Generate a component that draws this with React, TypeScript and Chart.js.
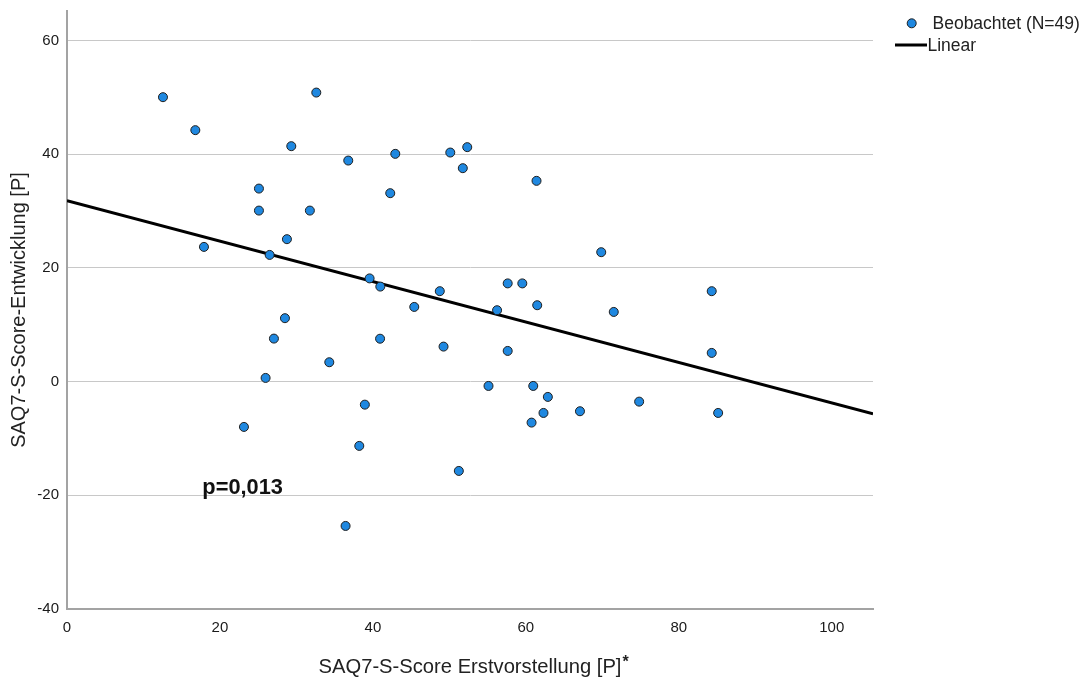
import React, { useEffect, useRef } from "react";
import { Chart, registerables } from "chart.js";

Chart.register(...registerables);

// Observed points (x = SAQ7-S-Score Erstvorstellung, y = SAQ7-S-Score-Entwicklung)
const xValues = [
  12.55, 16.78, 17.91, 23.14, 25.1, 25.1, 25.97, 26.5, 27.06, 28.5,
  28.76, 29.33, 31.76, 32.6, 34.3, 36.43, 36.78, 38.22, 38.95, 39.57,
  40.97, 40.94, 42.27, 42.93, 45.41, 48.75, 49.24, 50.12, 51.24, 51.76,
  52.34, 55.12, 56.24, 57.63, 57.63, 59.54, 60.75, 60.97, 61.49, 61.4,
  62.31, 62.88, 67.08, 69.86, 71.5, 74.82, 84.31, 84.31, 85.15,
];
const yValues = [
  50.04, 44.24, 23.7, -7.97, 33.96, 30.09, 0.65, 22.29, 7.57, 11.16,
  25.06, 41.42, 30.09, 50.85, 3.41, -25.39, 38.89, -11.31, -4.05, 18.16,
  16.72, 7.55, 33.15, 40.07, 13.14, 15.91, 6.16, 40.3, -15.71, 37.55,
  41.25, -0.76, 12.56, 17.28, 5.4, 17.28, -7.21, -0.76, 13.44, 35.32,
  -5.51, -2.69, -5.21, 22.77, 12.26, -3.52, 15.91, 5.05, -5.51,
];

// Linear fit line end points
const fitX = [0, 105.4];
const fitY = [31.85, -5.68];

const xTicks = [0, 20, 40, 60, 80, 100];
const yTicks = [-40, -20, 0, 20, 40, 60];
const xMin = 0;
const xMax = 105.4;
const yMin = -40;
const yMax = 65.2;

const legendLabels = ["Beobachtet (N=49)", "Linear"];
const xTitle = "SAQ7-S-Score Erstvorstellung [P]";
const xTitleMark = "*";
const yTitle = "SAQ7-S-Score-Entwicklung [P]";
const pLabel = "p=0,013";
const pLabelPos = [17.7, -18.7];

const FONT = '"Liberation Sans", Arial, sans-serif';
const POINT_FILL = "#1f88e0";
const POINT_BORDER = "#1e1e1e";

const overlayPlugin = {
  id: "overlay",
  afterDraw(chart: any) {
    const { ctx, scales, chartArea } = chart;
    ctx.save();
    // p-value annotation
    ctx.font = `bold 21.8px ${FONT}`;
    ctx.fillStyle = "#111";
    ctx.textAlign = "left";
    ctx.textBaseline = "middle";
    ctx.fillText(
      pLabel,
      scales.x.getPixelForValue(pLabelPos[0]),
      scales.y.getPixelForValue(pLabelPos[1])
    );

    // x axis title with superscript asterisk
    ctx.font = `20.2px ${FONT}`;
    ctx.fillStyle = "#222";
    ctx.textAlign = "center";
    ctx.textBaseline = "alphabetic";
    const cx = (chartArea.left + chartArea.right) / 2;
    ctx.fillText(xTitle, cx, 672.5);
    const w = ctx.measureText(xTitle).width;
    ctx.font = `bold 16px ${FONT}`;
    ctx.textAlign = "left";
    ctx.fillText(xTitleMark, cx + w / 2 + 1, 667);

    // legend
    ctx.font = `17.5px ${FONT}`;
    ctx.textBaseline = "middle";
    ctx.beginPath();
    ctx.arc(911.7, 23.3, 4.5, 0, Math.PI * 2);
    ctx.fillStyle = POINT_FILL;
    ctx.fill();
    ctx.lineWidth = 1;
    ctx.strokeStyle = POINT_BORDER;
    ctx.stroke();
    ctx.fillStyle = "#222";
    ctx.fillText(legendLabels[0], 932.5, 24);
    ctx.beginPath();
    ctx.moveTo(895, 45);
    ctx.lineTo(927, 45);
    ctx.lineWidth = 3;
    ctx.strokeStyle = "#000";
    ctx.stroke();
    ctx.fillText(legendLabels[1], 927.5, 46);
    ctx.restore();
  },
};

export default function App() {
  const canvasRef = useRef<HTMLCanvasElement | null>(null);

  useEffect(() => {
    if (!canvasRef.current) return;
    const points = xValues.map((x, i) => ({ x, y: yValues[i] }));
    const fit = fitX.map((x, i) => ({ x, y: fitY[i] }));
    const chart = new Chart(canvasRef.current, {
      type: "scatter",
      data: {
        datasets: [
          {
            label: legendLabels[0],
            data: points,
            pointRadius: 4.5,
            pointHoverRadius: 4.5,
            pointBackgroundColor: POINT_FILL,
            pointBorderColor: POINT_BORDER,
            pointBorderWidth: 1,
            showLine: false,
          },
          {
            label: legendLabels[1],
            data: fit,
            showLine: true,
            borderColor: "#000",
            borderWidth: 3,
            pointRadius: 0,
            pointHoverRadius: 0,
            fill: false,
          },
        ],
      },
      options: {
        responsive: false,
        animation: false,
        layout: { padding: { top: 11, right: 212, bottom: 0, left: 0 } },
        plugins: {
          legend: { display: false },
          tooltip: { enabled: false },
        },
        scales: {
          x: {
            type: "linear",
            min: xMin,
            max: xMax,
            afterBuildTicks: (scale: any) => {
              scale.ticks = xTicks.map((v) => ({ value: v }));
            },
            afterFit: (scale: any) => {
              scale.height = 68;
              scale.paddingLeft = 0;
              scale.paddingRight = 0;
            },
            grid: { display: false, drawTicks: false },
            border: { display: true, color: "#a3a3a3", width: 2 },
            ticks: {
              autoSkip: false,
              maxRotation: 0,
              padding: 10,
              color: "#1a1a1a",
              font: { family: FONT, size: 15 },
            },
            title: { display: false },
          },
          y: {
            type: "linear",
            min: yMin,
            max: yMax,
            afterBuildTicks: (scale: any) => {
              scale.ticks = yTicks.map((v) => ({ value: v }));
            },
            afterFit: (scale: any) => {
              scale.width = 67;
              scale.paddingTop = 0;
              scale.paddingBottom = 0;
            },
            grid: { color: "#c8c8c8", lineWidth: 1, drawTicks: false },
            border: { display: true, color: "#a3a3a3", width: 2 },
            ticks: {
              autoSkip: false,
              padding: 8,
              color: "#1a1a1a",
              font: { family: FONT, size: 15 },
            },
            title: {
              display: true,
              text: yTitle,
              color: "#222",
              font: { family: FONT, size: 20 },
              padding: { top: 7, bottom: 0 },
            },
          },
        },
      },
      plugins: [overlayPlugin],
    });
    return () => chart.destroy();
  }, []);

  return (
    <div style={{ position: "fixed", left: 0, top: 0, width: 1085, height: 677, background: "#fff" }}>
      <canvas ref={canvasRef} width={1085} height={677} style={{ width: 1085, height: 677 }} />
    </div>
  );
}
